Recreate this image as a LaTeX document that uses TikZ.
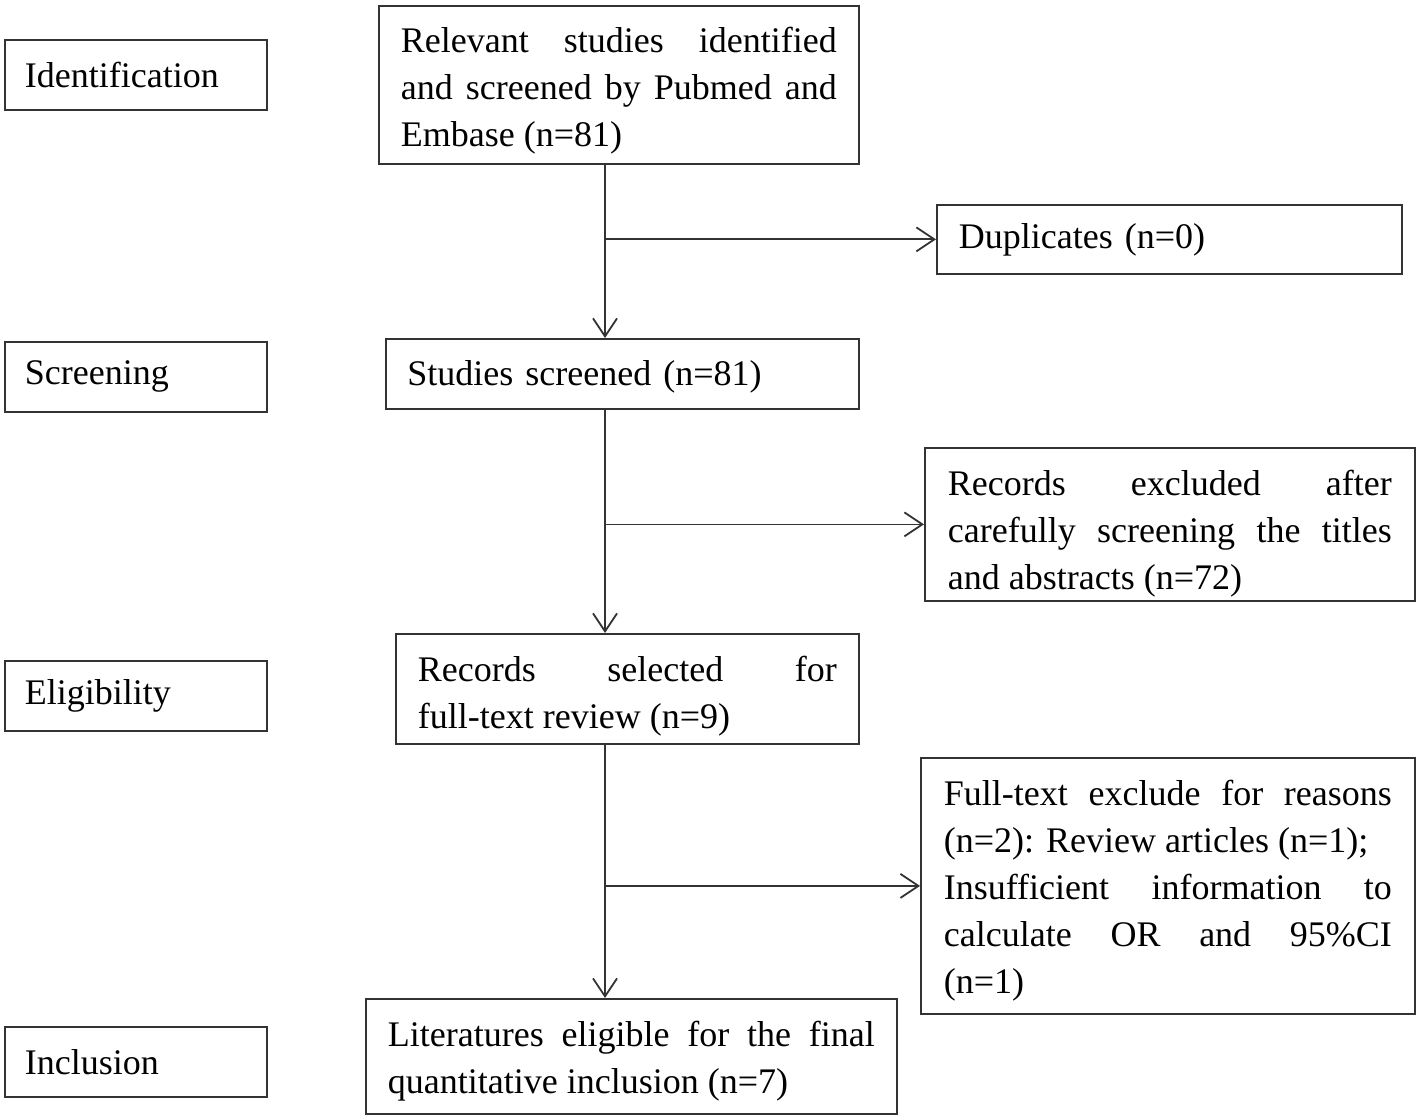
\documentclass[tikz,border=0pt]{standalone}
\usepackage{fontspec}
\setmainfont{Liberation Serif}
\usetikzlibrary{positioning,arrows.meta}

\begin{document}
\begin{tikzpicture}[x=0.5pt,y=-0.5pt,
   box/.style={draw=black!80,line width=0.9pt,anchor=north west,inner xsep=11pt,inner ysep=0pt,align=justify,font=\fontsize{18pt}{23.5pt}\selectfont},
   toppad/.style={execute at begin node={\rule{0pt}{#1}}},
   stage/.style={box,text width=111pt,minimum height=35pt,inner xsep=10pt,align=left},
   arr/.style={draw=black!80,line width=0.9pt,-{Straight Barb[length=9pt,width=12pt]}}]
\useasboundingbox (0,0) rectangle (1418,1118);
\coordinate (spine) at (605,0);
\node[stage] (ident) at (4,39) {Identification};
\node[stage] (screen) at (4,341) {Screening};
\node[stage] (elig) at (4,660) {Eligibility};
\node[stage] (incl) at (4,1026) {Inclusion};
\node[box,toppad=18.4pt,text width=218pt,minimum height=79pt] (rel) at (378,5) {Relevant studies identified\linebreak and screened by Pubmed and\linebreak Embase (n=81)};
\node[box,text width=210.5pt,minimum height=34.5pt,align=left] (dup) at (936,204) {Duplicates (n=0)};
\node[box,toppad=15.4pt,text width=215pt,minimum height=35pt,inner xsep=10.75pt,align=left] (scr) at (385,338) {Studies screened (n=81)};
\node[box,toppad=22.4pt,text width=222pt,minimum height=76.5pt,inner xsep=11.5pt] (exc) at (924,447) {Records excluded after\linebreak carefully screening the titles\linebreak and abstracts (n=72)};
\node[box,toppad=20.4pt,text width=209.5pt,minimum height=55pt] (sel) at (395,633) {Records selected for\linebreak full-text review (n=9)};
\node[box,toppad=17.4pt,text width=224pt,minimum height=128pt,inner xsep=11.5pt] (fte) at (920,757) {Full-text exclude for reasons\linebreak (n=2): Review articles (n=1);\\ Insufficient information to\linebreak calculate OR and 95\%CI\linebreak (n=1)};
\node[box,toppad=17.4pt,text width=243.5pt,minimum height=57.5pt] (lit) at (365,998) {Literatures eligible for the final\linebreak quantitative inclusion (n=7)};
\draw[arr] (rel.south -| spine) -- (scr.north -| spine);
\draw[arr] (spine |- dup.west) -- (dup.west);
\draw[arr] (scr.south -| spine) -- (sel.north -| spine);
\draw[arr] (spine |- exc.west) -- (exc.west);
\draw[arr] (sel.south -| spine) -- (lit.north -| spine);
\draw[arr] (spine |- fte.west) -- (fte.west);
\end{tikzpicture}
\end{document}
